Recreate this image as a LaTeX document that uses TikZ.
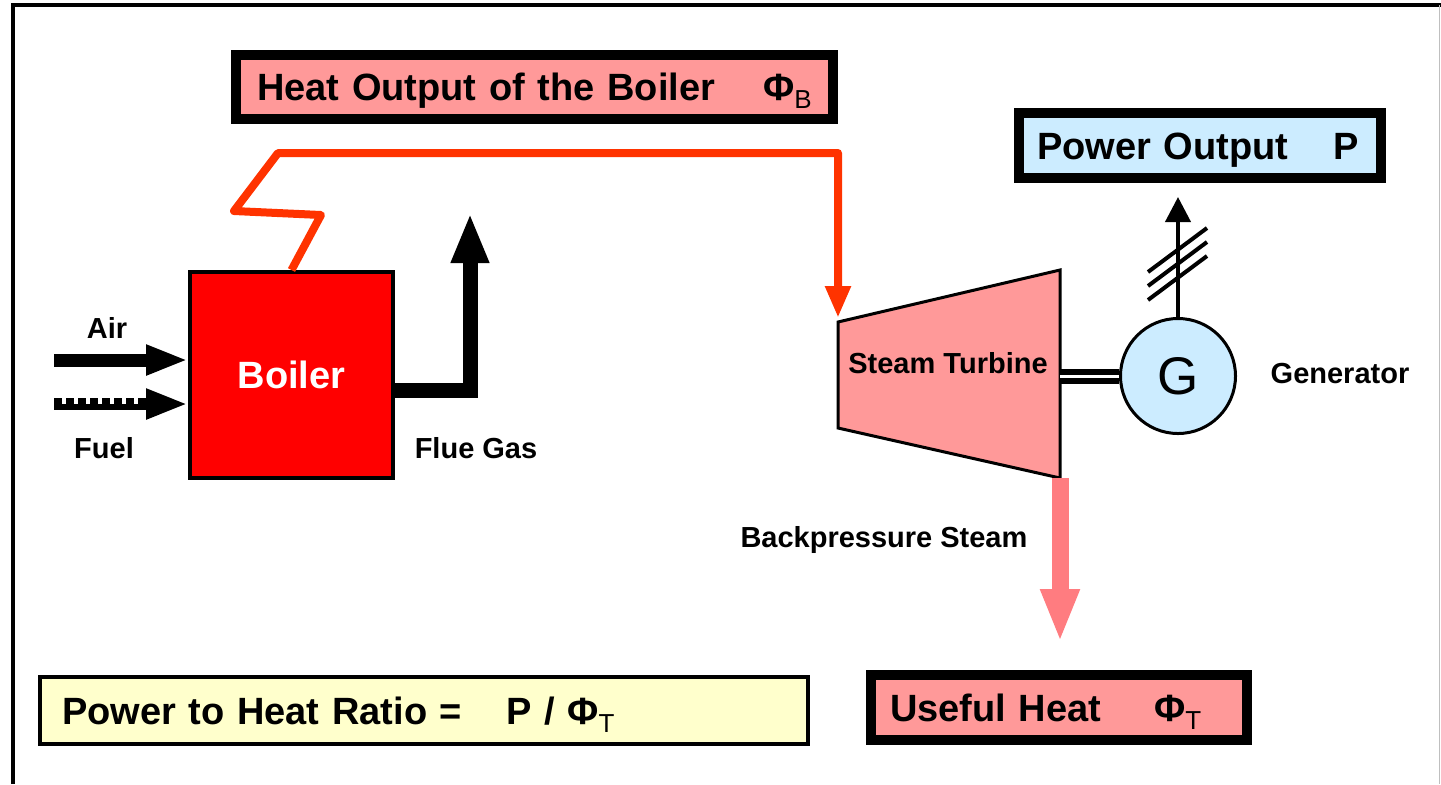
\documentclass[tikz,border=0pt]{standalone}
\usepackage{fontspec}
\setmainfont{Liberation Sans}
\usetikzlibrary{arrows.meta}

\definecolor{heatpink}{HTML}{FF9999}
\definecolor{powerblue}{HTML}{CCECFF}
\definecolor{ratioyellow}{HTML}{FFFFCC}
\definecolor{flamered}{HTML}{FF3300}
\definecolor{boilerred}{HTML}{FF0000}
\definecolor{steampink}{HTML}{FF7C80}

\newcommand{\flux}[1]{Φ\raisebox{-4pt}{\fontsize{13pt}{13pt}\selectfont\mdseries #1}}

\begin{document}
\begin{tikzpicture}[x=0.5pt, y=-0.5pt,
    font=\bfseries\fontsize{14.5pt}{17pt}\selectfont,
    bigbox/.style={draw, line width=5pt, align=left, text height=13.5pt, text depth=0pt,
        font=\bfseries\fontsize{19pt}{22pt}\selectfont},
    label/.style={anchor=base}]
    \useasboundingbox (0,0) rectangle (1441,784);
    \draw[line width=2pt] (12.5,784) -- (12.5,5) -- (1441,5);
    \draw[gray!50, line width=0.5pt] (1439.5,5) -- (1439.5,784);

    % Nodes
    \node[bigbox, fill=heatpink, minimum height=32pt, inner xsep=10.5pt, text width=277.5pt] (heatB) at (534.5,87) {Heat Output of the Boiler\hspace{24pt}\flux{B}};
    \node[bigbox, fill=powerblue, minimum height=32.5pt, inner xsep=9pt, text width=163pt] (powerP) at (1200,145.5) {Power Output\hspace{22.5pt}P};
    \node[bigbox, fill=heatpink, minimum height=32.5pt, inner xsep=9.5pt, text width=169pt] (usefulT) at (1059,707.5) {Useful Heat\hspace{26.5pt}\flux{T}};
    \node[bigbox, line width=2pt, fill=ratioyellow, minimum height=33.5pt, inner xsep=11pt, text width=362pt] (ratio) at (424,710.5) {Power to Heat Ratio =\hspace{22pt}P / \flux{T}};

    \node[draw, line width=2pt, fill=boilerred, minimum width=101.5pt, minimum height=103pt, text=white,
        font=\bfseries\fontsize{19pt}{22pt}\selectfont] (boiler) at (291.5,375) {Boiler};

    \coordinate (turbTL) at (838,322);
    \coordinate (turbTR) at (1060,270);
    \coordinate (turbBR) at (1060,478);
    \coordinate (turbBL) at (838,428);
    \draw[line width=1.5pt, fill=heatpink] (turbTL) -- (turbTR) -- (turbBR) -- (turbBL) -- cycle;
    \node[label] (turbine) at (948,373) {Steam Turbine};

    \node[circle, draw, line width=1.5pt, fill=powerblue, minimum size=57.5pt, inner sep=0pt,
        font=\mdseries\fontsize{26.5pt}{30pt}\selectfont] (gen) at (1178,376) {G};
    \node[label] (genname) at (1340,383) {Generator};

    \node[label] (air) at (107,338) {Air};
    \node[label] (fuel) at (104,458) {Fuel};
    \node[label] (fluegas) at (476,458) {Flue Gas};
    \node[label] (backsteam) at (884,547) {Backpressure Steam};

    % Connections
    \coordinate (airin) at (54,360);
    \coordinate (fuelin) at (54,404);
    \draw[line width=6.5pt, -{Triangle[length=21pt, width=14pt]}] (airin) -- (airin -| boiler.west);
    \draw[line width=6pt, dash pattern=on 3.8pt off 2.2pt, -{Triangle[length=21pt, width=14pt]}] (fuelin) -- (fuelin -| boiler.west);
    \draw[line width=3pt] ([yshift=-1.5pt]fuelin) -- ++(96,0);

    \coordinate (flueup) at (470,213);
    \draw[line width=7.5pt, -{Triangle[length=25pt, width=17.5pt]}] (boiler.east |- 0,390) -- (flueup |- 0,390) -- (flueup);

    \draw[flamered, line width=4pt, line join=round, -{Triangle[length=16pt, width=12pt]}, shorten >=2pt]
        (boiler.north) -- (321,215) -- (234,211) -- (278,153) -- (turbTL |- 0,153) -- (turbTL);

    \coordinate (shaftL) at (1060,376);
    \draw[line width=3pt, double=white, double distance=1.5pt] (shaftL) -- (gen.west);

    \coordinate (powtip) at (1178,197);
    \draw[line width=2pt, -{Triangle[length=12.5pt, width=12.5pt]}] (gen.north) -- (powtip);
    \foreach \k in {0,1,2}
        \draw[line width=2pt] (1148,{272+14*\k}) -- (1207,{228+14*\k});

    \coordinate (steamtip) at (1060,642);
    \draw[steampink, line width=8.5pt, -{Triangle[length=26.5pt, width=18pt]}] (turbBR) -- (steamtip);
\end{tikzpicture}
\end{document}
